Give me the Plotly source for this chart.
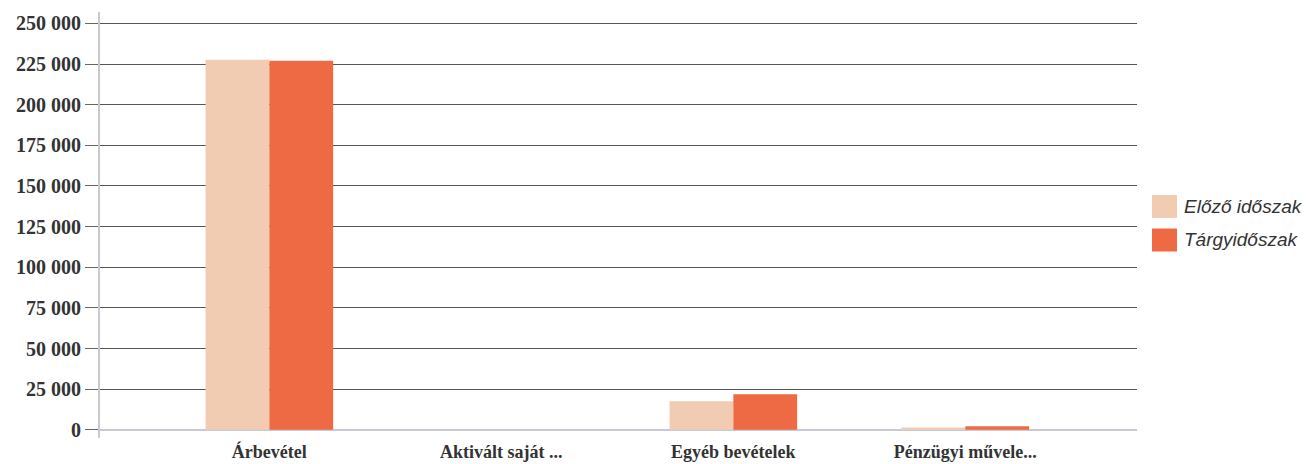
import plotly.graph_objects as go

categories = ["Árbevétel", "Aktivált saját ...", "Egyéb bevételek", "Pénzügyi művele..."]
series_names = ["Előző időszak", "Tárgyidőszak"]
prev_values = [227600, 0, 17600, 1500]
curr_values = [227000, 0, 21900, 2300]
y_tick_values = [0, 25000, 50000, 75000, 100000, 125000, 150000, 175000, 200000, 225000, 250000]
y_tick_labels = ["0", "25 000", "50 000", "75 000", "100 000", "125 000", "150 000",
                 "175 000", "200 000", "225 000", "250 000"]

colors = ["#F2CCB2", "#EE6A45"]

W, H = 1310, 464
ML, MR, MT, MB = 100, 173, 12, 26
PW, PH = W - ML - MR, H - MT - MB


def px_x(px):
    return (px - ML) / PW


def px_y(py):
    return (H - MB - py) / PH


fig = go.Figure()
for name, vals, col in zip(series_names, [prev_values, curr_values], colors):
    fig.add_trace(go.Bar(x=categories, y=vals, name=name,
                         marker=dict(color=col, line=dict(width=0))))

# manual legend (large swatches)
legend_rows = [206.5, 240.0]
for name, col, cy in zip(series_names, colors, legend_rows):
    fig.add_shape(type="rect", xref="paper", yref="paper",
                  x0=px_x(1152), x1=px_x(1177), y0=px_y(cy + 11.5), y1=px_y(cy - 11.5),
                  fillcolor=col, line=dict(width=0), layer="above")
    fig.add_annotation(xref="paper", yref="paper", x=px_x(1182), y=px_y(cy),
                       xanchor="left", yanchor="middle", showarrow=False, text=name,
                       font=dict(family="Liberation Sans", size=19, color="#333333", style="italic"))

fig.update_layout(
    width=W, height=H,
    margin=dict(l=ML, r=MR, t=MT, b=MB, autoexpand=False),
    paper_bgcolor="white", plot_bgcolor="white",
    barmode="group", bargap=0.45, bargroupgap=0,
    showlegend=False,
)
fig.update_xaxes(
    type="category", range=[-0.73, 3.74], automargin=False,
    showgrid=False, showline=False, ticks="", ticklabelstandoff=1,
    tickfont=dict(family="Liberation Serif", size=18, color="#333333", weight="bold"),
)
fig.update_yaxes(
    range=[-5000, 257000], automargin=False,
    tickvals=y_tick_values, ticktext=y_tick_labels,
    showgrid=True, gridcolor="#555555", gridwidth=1,
    zeroline=True, zerolinecolor="#c9c9d6", zerolinewidth=2,
    showline=True, linecolor="#c9c9d6", linewidth=2,
    ticks="outside", ticklen=13, tickcolor="#666666", tickwidth=1,
    tickfont=dict(family="Liberation Serif", size=20, color="#333333", weight="bold"),
)

fig.write_html("out.html", config={"displayModeBar": False},
               post_script="document.body.style.margin='0';document.body.style.overflow='hidden';")
